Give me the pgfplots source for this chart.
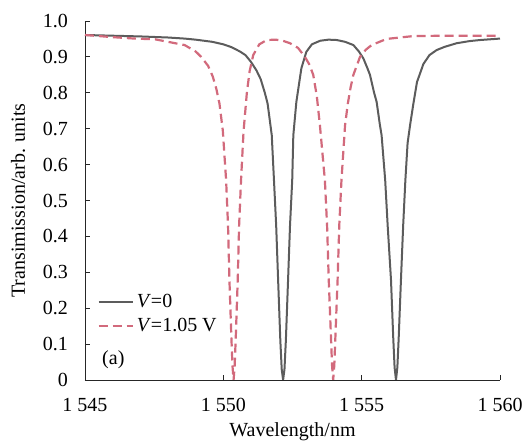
\documentclass[border=0pt]{standalone}
\usepackage{fontspec}
\setmainfont{Liberation Serif}
\usepackage{pgfplots}
\pgfplotsset{compat=1.18}

\definecolor{vzero}{HTML}{5C5C5C}
\definecolor{vred}{HTML}{D26A7C}

\begin{document}
\fontsize{20}{23}\selectfont
\begin{tikzpicture}
\begin{axis}[
  width=415pt, height=359pt, scale only axis,
  xmin=1545, xmax=1560, ymin=0, ymax=1,
  axis lines=left,
  axis line style={-, line width=0.9pt, black!85},
  tick align=inside, major tick length=5pt,
  tick style={black!85, line width=0.8pt},
  xtick={1545,1550,1555,1560},
  xticklabels={1 545,1 550,1 555,1 560},
  ytick={0,0.1,0.2,0.3,0.4,0.5,0.6,0.7,0.8,0.9,1.0},
  yticklabels={0,0.1,0.2,0.3,0.4,0.5,0.6,0.7,0.8,0.9,1.0},
  tick label style={inner sep=0pt},
  xticklabel style={anchor=north, yshift=-18pt},
  yticklabel style={anchor=east, xshift=-17pt},
  xlabel={Wavelength/nm},
  ylabel={Transimission/arb. units},
  xlabel style={at={(rel axis cs:0.5,-0.156)}, anchor=base},
  ylabel style={at={(rel axis cs:-0.1446,0.5)}, anchor=base},
  legend style={draw=none, fill=none, at={(rel axis cs:0.03,0.245)},
    anchor=north west, row sep=3.5pt, inner sep=0pt,
    nodes={inner xsep=3pt}},
  legend cell align=left,
  legend image code/.code={\draw[#1] (0pt,0pt) -- (34pt,0pt);},
]
% V = 0
\addplot[vzero, line width=2pt] coordinates {
  (1545.0,0.961) (1546.0,0.959) (1547.0,0.957) (1548.0,0.954) (1548.6,0.951)
  (1549.0,0.948) (1549.6,0.942) (1550.0,0.935) (1550.3,0.927) (1550.6,0.915)
  (1550.8,0.905) (1551.0,0.886) (1551.2,0.862) (1551.35,0.838) (1551.5,0.800)
  (1551.6,0.770) (1551.75,0.682) (1551.83,0.557) (1551.91,0.430) (1551.98,0.279)
  (1552.06,0.110) (1552.11,0.030) (1552.16,0.0) (1552.21,0.030) (1552.26,0.110)
  (1552.34,0.279) (1552.41,0.430) (1552.49,0.557) (1552.53,0.682) (1552.64,0.775)
  (1552.82,0.868) (1553.0,0.914) (1553.2,0.935) (1553.5,0.945) (1553.8,0.948)
  (1554.1,0.947) (1554.4,0.942) (1554.7,0.933) (1554.9,0.915) (1555.06,0.896)
  (1555.2,0.870) (1555.3,0.850) (1555.45,0.800) (1555.54,0.775) (1555.66,0.710)
  (1555.72,0.682) (1555.85,0.557) (1555.94,0.430) (1556.06,0.279) (1556.14,0.120)
  (1556.19,0.035) (1556.24,0.0) (1556.29,0.035) (1556.34,0.120) (1556.42,0.279)
  (1556.50,0.430) (1556.58,0.557) (1556.66,0.660) (1556.75,0.710) (1556.87,0.770)
  (1557.0,0.830) (1557.23,0.880) (1557.45,0.905) (1557.71,0.919) (1558.0,0.928)
  (1558.43,0.938) (1558.9,0.944) (1559.28,0.947) (1560.0,0.951)
};
\addlegendentry{\textit{V}=0}
% V = 1.05 V
\addplot[vred, line width=2.2pt, dash pattern=on 9pt off 5pt] coordinates {
  (1545.0,0.961) (1546.0,0.955) (1546.8,0.951) (1547.53,0.949) (1548.13,0.940)
  (1548.6,0.933) (1549.0,0.915) (1549.2,0.900) (1549.45,0.875) (1549.62,0.845)
  (1549.75,0.810) (1549.86,0.770) (1549.98,0.696) (1550.10,0.557) (1550.17,0.430)
  (1550.22,0.279) (1550.29,0.120) (1550.33,0.040) (1550.37,0.0) (1550.41,0.040)
  (1550.45,0.120) (1550.52,0.279) (1550.57,0.430) (1550.64,0.557) (1550.73,0.692)
  (1550.85,0.800) (1550.95,0.860) (1551.08,0.905) (1551.3,0.935) (1551.57,0.947)
  (1551.9,0.948) (1552.15,0.945) (1552.41,0.938) (1552.7,0.925) (1552.95,0.900)
  (1553.1,0.880) (1553.25,0.850) (1553.38,0.790) (1553.49,0.710) (1553.67,0.557)
  (1553.75,0.430) (1553.81,0.279) (1553.89,0.120) (1553.93,0.040) (1553.97,0.0)
  (1554.01,0.040) (1554.05,0.120) (1554.13,0.279) (1554.19,0.430) (1554.27,0.557)
  (1554.40,0.710) (1554.5,0.770) (1554.6,0.815) (1554.7,0.850) (1554.94,0.900)
  (1555.15,0.920) (1555.36,0.933) (1555.9,0.950) (1556.5,0.955) (1556.87,0.958)
  (1558.07,0.959) (1560.0,0.959)
};
\addlegendentry{\textit{V}=1.05 V}
\node[anchor=west, inner sep=0pt] at (rel axis cs:0.041,0.056) {(a)};
\coordinate (sw) at (rel axis cs:0,0);
\coordinate (ne) at (rel axis cs:1,1);
\end{axis}
\pgfresetboundingbox
\path[use as bounding box] ([xshift=-85pt,yshift=-63pt]sw) rectangle ([xshift=27pt,yshift=21pt]ne);
\end{tikzpicture}
\end{document}
